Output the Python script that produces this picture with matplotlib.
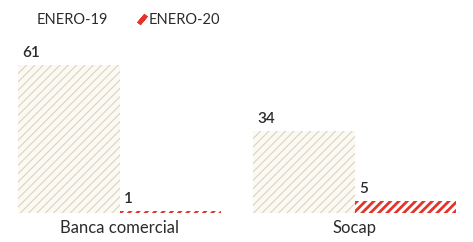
import matplotlib.pyplot as plt
import matplotlib.patches as mpatches
from matplotlib.lines import Line2D
import numpy as np

# Data
categorias = ['Banca comercial', 'Socap']
enero_19 = [61, 34]
enero_20 = [1, 5]
series = ['ENERO-19', 'ENERO-20']

# Colours
pale = '#fbf9f1'
pale_hatch = '#d3cfbf'
red = '#e5332a'
text_col = '#2b2b2b'

plt.rcParams['font.family'] = ['Lato', 'DejaVu Sans']

fig = plt.figure(figsize=(4.73, 2.42), dpi=100)
ax = fig.add_axes([2 / 473, 29 / 242, 470 / 473, 194 / 242])

x = np.arange(len(categorias))
w = 0.434

plt.rcParams['hatch.linewidth'] = 0.7
b19 = ax.bar(x - w / 2, enero_19, width=w, color=pale, edgecolor=pale_hatch,
             hatch='////', linewidth=0)
plt.rcParams['hatch.linewidth'] = 2.0
b20 = ax.bar(x + w / 2, enero_20, width=w, color='white', edgecolor=red,
             hatch='////', linewidth=0)
for bars, lw in ((b19, 0.7), (b20, 2.0)):
    for p in bars:
        if hasattr(p, 'set_hatch_linewidth'):
            p.set_hatch_linewidth(lw)

# Value labels, left-aligned on each bar
for xi, v in zip(x - w, enero_19):
    ax.text(xi + 0.02, v + 2.0, str(v), ha='left', va='bottom',
            fontsize=11, color=text_col, fontweight='semibold')
for xi, v in zip(x, enero_20):
    ax.text(xi + 0.02, v + 2.0, str(v), ha='left', va='bottom',
            fontsize=11, color=text_col, fontweight='semibold')

ax.set_xlim(-0.5, 1.5)
ax.set_ylim(0, 80)
ax.axis('off')

# Category labels
for xi, c in zip(x, categorias):
    ax.text(xi, -3.0, c, ha='center', va='top', fontsize=12, color=text_col)

# Legend
handles = [mpatches.Patch(facecolor='white', edgecolor='white', label=series[0]),
           Line2D([], [], linestyle='none', marker=(2, 2, -40), markersize=8,
                  markeredgewidth=3.2, color=red, label=series[1])]
leg = fig.legend(handles=handles, loc='upper left', bbox_to_anchor=(0.025, 1.0),
                 ncol=2, frameon=False, fontsize=10.5, handlelength=0.6,
                 handleheight=0.7, handletextpad=0.2, columnspacing=2.0,
                 labelcolor=text_col)

fig.savefig('out.png', dpi=100)
